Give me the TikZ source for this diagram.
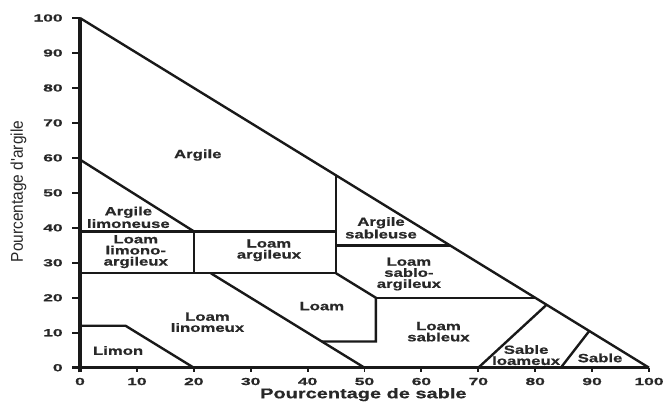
\documentclass[tikz,border=0pt]{standalone}
\usepackage{fontspec}
\setmainfont{Liberation Sans}
\newfontfamily\labfont[FakeStretch=1.4,FakeBold=0.8]{Liberation Sans}
\newfontfamily\tkfont[FakeStretch=1.7,FakeBold=0.8]{Liberation Sans}
\newfontfamily\xlabfont[FakeStretch=1.42,FakeBold=0.6]{Liberation Sans}
\newfontfamily\ylabfont{Liberation Sans}
\usetikzlibrary{positioning}
\definecolor{LineDark}{RGB}{25,25,25}
\definecolor{TextDark}{RGB}{40,40,40}

\begin{document}
\begin{tikzpicture}[x=0.14225cm,y=0.087425cm,
        zone/.style={draw=LineDark,line width=1.7pt},
        axe/.style={draw=LineDark,line width=2.2pt},
        tk/.style={font=\tkfont\bfseries\fontsize{7.3}{8}\selectfont,
                   text=TextDark,inner sep=0pt},
        lab/.style={font=\labfont\bfseries\fontsize{8.5}{7.9}\selectfont,
                    text=TextDark,align=center,inner sep=0pt}
      ]
        \useasboundingbox (-14.06,-10.67) rectangle (103.16,105.15);
        % axes and ticks
        \draw[axe] (0,-1.3) -- (0,100);
        \draw[axe] (-1.4,0) -- (100,0);
        \foreach \v in {0,10,...,100}{
          \draw[axe,line width=1.4pt] (-1.4,\v) -- (0,\v);
          \draw[axe,line width=1.4pt] (\v,0) -- (\v,-1.3);
          \node[tk,anchor=east] (ly\v) at (-3,\v) {\v};
          \node[tk] (lx\v) at (\v,-3.95) {\v};
        }
        \node[font=\xlabfont\bfseries\fontsize{10}{12}\selectfont,text=TextDark]
          (xlab) at (49.8,-7.7) {Pourcentage de sable};
        \node[font=\ylabfont\fontsize{11}{13}\selectfont,text=TextDark,
              rotate=90,yscale=1.1,transform shape]
          (ylab) at (-10.8,50.4) {Pourcentage d'argile};
        % texture classes
        \draw[zone] (0,100) -- (100,0);
        \draw[zone] (0,59.5) -- (20,39);
        \draw[zone] (0,39) -- (45,39);
        \draw[zone] (20,27) -- (20,39);
        \draw[zone] (0,27) -- (45,27);
        \draw[zone] (45,27) -- (45,55);
        \draw[zone] (45,35) -- (65,35);
        \draw[zone] (45,27) -- (52,20) -- (52,7.5) -- (42.5,7.5);
        \draw[zone] (52,20) -- (80,20);
        \draw[zone] (23,27) -- (50,0);
        \draw[zone] (0,12) -- (8,12) -- (20,0);
        \draw[zone] (70,0) -- (82,18);
        \draw[zone] (84.5,0) -- (89.5,10.5);
        % labels
        \node[lab] (argile) at (20.7,60.8) {Argile};
        \node[lab] (alim)   at (8.5,43)    {Argile\\limoneuse};
        \node[lab] (llimar) at (9.8,33.2)  {Loam\\limono-\\argileux};
        \node[lab] (largil) at (33.2,33.6) {Loam\\argileux};
        \node[lab] (asab)   at (52.9,40)   {Argile\\sableuse};
        \node[lab] (lsabar) at (57.8,26.8) {Loam\\sablo-\\argileux};
        \node[lab] (loam)   at (42.5,17.6) {Loam};
        \node[lab] (llin)   at (22.4,13)   {Loam\\linomeux};
        \node[lab] (limon)  at (6.7,4.9)   {Limon};
        \node[lab] (lsab)   at (63,10.3)   {Loam\\sableux};
        \node[lab] (sloam)  at (78.4,3.6)  {Sable\\loameux};
        \node[lab] (sable)  at (91.4,2.8)  {Sable};
      \end{tikzpicture}
\end{document}
